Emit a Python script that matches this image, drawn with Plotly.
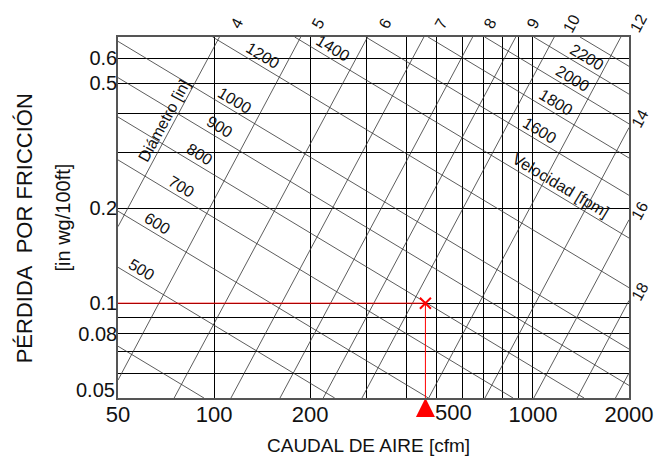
import math
import plotly.graph_objects as go

# ---------------- data ----------------
X_TICKS = [50, 100, 200, 300, 400, 500, 600, 700, 800, 900, 1000, 2000]
X_LABELS = ["50", "100", "200", "", "", "", "", "", "", "", "1000", "2000"]
Y_TICKS = [0.05, 0.06, 0.07, 0.08, 0.09, 0.1, 0.2, 0.3, 0.4, 0.5, 0.6]
Y_LABELS = ["", "", "", "0.08", "", "0.1", "0.2", "", "", "0.5", "0.6"]

# constant-diameter lines [in]: entry and exit points (flow cfm, loss in wg/100ft)
DIAMETERS = [4, 5, 6, 7, 8, 9, 10, 12, 14, 16, 18, 20]
DIAM_FLOW_START = [50, 50, 75, 113, 161, 220, 291, 471, 707, 1006, 1375, 1814]
DIAM_LOSS_START = [0.175, 0.057, 0.05, 0.05, 0.05, 0.05, 0.05, 0.05, 0.05, 0.05, 0.05, 0.05]
DIAM_FLOW_END = [104, 187, 303, 455, 647, 883, 1166, 1886, 2000, 2000, 2000, 2000]
DIAM_LOSS_END = [0.7, 0.7, 0.7, 0.7, 0.7, 0.7, 0.7, 0.7, 0.361, 0.184, 0.102, 0.060]
DIAM_SHOW_LABEL = [True] * 11 + [False]

# constant-velocity lines [fpm]: entry and exit points
VELOCITIES = [400, 500, 600, 700, 800, 900, 1000, 1200, 1400, 1600, 1800, 2000, 2200, 2400]
VEL_FLOW_START = [50, 50, 50, 50, 50, 50, 50, 99, 179, 299, 469, 706, 1006, 1404]
VEL_LOSS_START = [0.073, 0.130, 0.196, 0.285, 0.390, 0.520, 0.678, 0.7, 0.7, 0.7, 0.7, 0.7, 0.7, 0.7]
VEL_FLOW_END = [93, 239, 470, 866, 1446, 2000, 2000, 2000, 2000, 2000, 2000, 2000, 2000, 2000]
VEL_LOSS_END = [0.05, 0.05, 0.05, 0.05, 0.05, 0.0548, 0.0715, 0.112, 0.161, 0.220, 0.289, 0.371, 0.461, 0.565]
VEL_SHOW_LABEL = [False] + [True] * 12 + [False]

# design point
DESIGN_FLOW = 460
DESIGN_LOSS = 0.1

# ---------------- layout / label placement ----------------
X_MIN, X_MAX = 50, 2000
Y_MIN, Y_MAX = 0.05, 0.7
VEL_LABEL_FLOW = {500: 57, 600: 64, 700: 76, 800: 87, 900: 100, 1000: 112,
                  1200: 137, 1400: 228, 1600: 1013, 1800: 1140, 2000: 1284, 2200: 1428}
VEL_TITLE_FLOW, VEL_TITLE_LINE = 1179, 1400
DIAM_TITLE_FLOW, DIAM_TITLE_LINE = 74, 4

FAM = "Liberation Sans, Arial"
LINE_FONT = dict(family=FAM, size=16, color="#111")
VEL_ANGLE = 31
DIAM_ANGLE = -61.5

L = math.log10


def on_line(q, q1, d1, q2, d2):
    t = (L(q) - L(q1)) / (L(q2) - L(q1))
    return 10 ** (L(d1) + t * (L(d2) - L(d1)))


fig = go.Figure()

# velocity lines
vx, vy = [], []
for q1, d1, q2, d2 in zip(VEL_FLOW_START, VEL_LOSS_START, VEL_FLOW_END, VEL_LOSS_END):
    vx += [q1, q2, None]
    vy += [d1, d2, None]
fig.add_trace(go.Scatter(x=vx, y=vy, mode="lines", line=dict(color="#333", width=0.8),
                         hoverinfo="skip", showlegend=False))

# diameter lines
dx, dy = [], []
for q1, d1, q2, d2 in zip(DIAM_FLOW_START, DIAM_LOSS_START, DIAM_FLOW_END, DIAM_LOSS_END):
    dx += [q1, q2, None]
    dy += [d1, d2, None]
fig.add_trace(go.Scatter(x=dx, y=dy, mode="lines", line=dict(color="#333", width=0.8),
                         hoverinfo="skip", showlegend=False))

# design point guides
fig.add_trace(go.Scatter(x=[X_MIN, DESIGN_FLOW], y=[DESIGN_LOSS, DESIGN_LOSS], mode="lines",
                         line=dict(color="#ff0000", width=1), hoverinfo="skip", showlegend=False))
fig.add_trace(go.Scatter(x=[DESIGN_FLOW, DESIGN_FLOW], y=[Y_MIN, DESIGN_LOSS], mode="lines",
                         line=dict(color="#ff0000", width=1), hoverinfo="skip", showlegend=False))
fig.add_trace(go.Scatter(x=[DESIGN_FLOW], y=[DESIGN_LOSS], mode="markers",
                         marker=dict(symbol="x-thin", size=11, line=dict(color="#ff0000", width=2)),
                         hoverinfo="skip", showlegend=False))
fig.add_trace(go.Scatter(x=[DESIGN_FLOW], y=[Y_MIN], mode="markers", cliponaxis=False,
                         marker=dict(symbol="arrow-up", size=19, color="#ff0000", line=dict(width=0)),
                         hoverinfo="skip", showlegend=False))

ann = []
# diameter labels
for D, q2, d2, show in zip(DIAMETERS, DIAM_FLOW_END, DIAM_LOSS_END, DIAM_SHOW_LABEL):
    if not show:
        continue
    if d2 >= Y_MAX * 0.999:
        xs, ys = 17, 14
    else:
        xs, ys = 11, 9
    ann.append(dict(x=L(q2), y=L(d2), text=str(D), showarrow=False, textangle=DIAM_ANGLE,
                    xshift=xs, yshift=ys, font=LINE_FONT))

# velocity labels
sa, ca = math.sin(math.radians(VEL_ANGLE)), math.cos(math.radians(VEL_ANGLE))
for V, q1, d1, q2, d2, show in zip(VELOCITIES, VEL_FLOW_START, VEL_LOSS_START,
                                   VEL_FLOW_END, VEL_LOSS_END, VEL_SHOW_LABEL):
    if not show:
        continue
    q = VEL_LABEL_FLOW[V]
    d = on_line(q, q1, d1, q2, d2)
    ann.append(dict(x=L(q), y=L(d), text=str(V), showarrow=False, textangle=VEL_ANGLE,
                    xshift=10 * sa, yshift=10 * ca, font=LINE_FONT))
    if V == VEL_TITLE_LINE:
        dd = on_line(VEL_TITLE_FLOW, q1, d1, q2, d2)
        ann.append(dict(x=L(VEL_TITLE_FLOW), y=L(dd), text="Velocidad [fpm]", showarrow=False,
                        textangle=VEL_ANGLE, xshift=10 * sa, yshift=10 * ca, font=LINE_FONT))

i4 = DIAMETERS.index(DIAM_TITLE_LINE)
dd = on_line(DIAM_TITLE_FLOW, DIAM_FLOW_START[i4], DIAM_LOSS_START[i4],
             DIAM_FLOW_END[i4], DIAM_LOSS_END[i4])
sd, cd = math.sin(math.radians(-DIAM_ANGLE)), math.cos(math.radians(-DIAM_ANGLE))
ann.append(dict(x=L(DIAM_TITLE_FLOW), y=L(dd), text="Diámetro [in]", showarrow=False,
                textangle=DIAM_ANGLE, xshift=-9 * sd, yshift=9 * cd, font=LINE_FONT))

# offset tick labels
ann.append(dict(x=L(500), y=0, yref="paper", text="500", showarrow=False, yanchor="top",
                xshift=17, yshift=0, font=dict(family=FAM, size=22, color="#111")))
ann.append(dict(x=0, xref="paper", y=L(0.05), text="0.05", showarrow=False, xanchor="right",
                xshift=-1, yshift=8, font=dict(family=FAM, size=20, color="#111")))

# axis titles
ann.append(dict(x=0.49, xref="paper", y=0, yref="paper", text="CAUDAL DE AIRE [cfm]",
                showarrow=False, yanchor="middle", yshift=-47, font=dict(family=FAM, size=19, color="#111")))
ann.append(dict(x=0, xref="paper", y=0.47, yref="paper", text="PÉRDIDA\u00a0 POR FRICCIÓN",
                showarrow=False, textangle=-90, xanchor="center", xshift=-94,
                font=dict(family=FAM, size=22, color="#111")))
ann.append(dict(x=0, xref="paper", y=0.5, yref="paper", text="[in wg/100ft]",
                showarrow=False, textangle=-90, xanchor="center", xshift=-56,
                font=dict(family=FAM, size=20, color="#111")))

fig.update_layout(
    width=665, height=460,
    margin=dict(l=118, r=27, t=37, b=62),
    paper_bgcolor="white", plot_bgcolor="white",
    font=dict(family=FAM, color="#111"),
    annotations=ann,
)
fig.update_xaxes(type="log", range=[L(X_MIN), L(X_MAX)], tickvals=X_TICKS, ticktext=X_LABELS,
                 showgrid=True, gridcolor="#000", gridwidth=1, showline=True, mirror=True,
                 linecolor="#555", linewidth=1.5, ticks="", tickfont=dict(size=22), zeroline=False,
                 ticklabelstandoff=-4)
fig.update_yaxes(type="log", range=[L(Y_MIN), L(Y_MAX)], tickvals=Y_TICKS, ticktext=Y_LABELS,
                 showgrid=True, gridcolor="#000", gridwidth=1, showline=True, mirror=True,
                 linecolor="#555", linewidth=1.5, ticks="", tickfont=dict(size=20), zeroline=False,
                 ticklabelstandoff=-5)

# remove the default 8px page margin so the 665x460 figure fills the window exactly
fig.write_html("out.html", config={"displayModeBar": False},
               post_script="document.body.style.margin='0px';")
